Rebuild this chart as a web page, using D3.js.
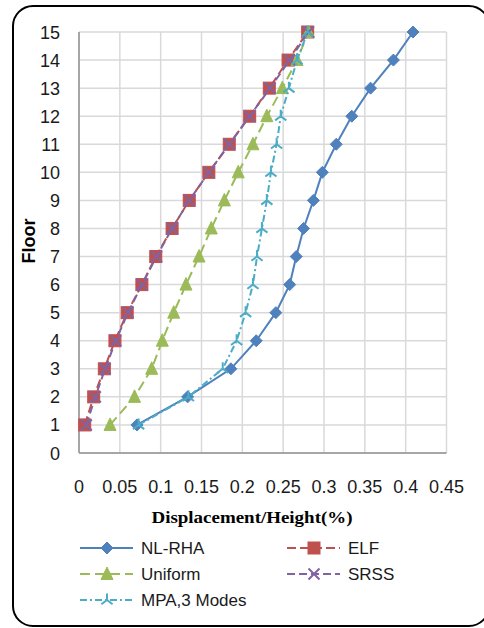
<!DOCTYPE html>
<html>
<head>
<meta charset="utf-8">
<script src="https://cdn.jsdelivr.net/npm/d3@7"></script>
<style>
html,body{margin:0;padding:0;background:#fff;}
svg{display:block;}
</style>
</head>
<body>
<svg id="chart" width="484" height="628"></svg>
<script>
const floors = [1,2,3,4,5,6,7,8,9,10,11,12,13,14,15];
const nlRha   = [0.071,0.133,0.186,0.217,0.241,0.258,0.266,0.275,0.287,0.298,0.315,0.334,0.357,0.385,0.409];
const elf     = [0.007,0.018,0.031,0.044,0.059,0.077,0.094,0.114,0.135,0.159,0.184,0.209,0.233,0.256,0.280];
const uniform = [0.038,0.068,0.089,0.102,0.116,0.131,0.147,0.162,0.178,0.195,0.213,0.230,0.249,0.267,0.281];
const srss    = [0.009,0.020,0.032,0.045,0.060,0.077,0.095,0.114,0.135,0.159,0.184,0.209,0.234,0.258,0.281];
const mpa     = [0.073,0.134,0.176,0.193,0.204,0.213,0.218,0.224,0.230,0.235,0.242,0.247,0.257,0.267,0.280];
const seriesNames = ["NL-RHA","ELF","Uniform","SRSS","MPA,3 Modes"];
const xTicks = [0,0.05,0.1,0.15,0.2,0.25,0.3,0.35,0.4,0.45];
const yTicks = [0,1,2,3,4,5,6,7,8,9,10,11,12,13,14,15];

const styles = {
  "NL-RHA":      {color:"#4F81BD", dash:null,      marker:"diamond"},
  "ELF":         {color:"#C0504D", dash:"9,4",     marker:"square"},
  "Uniform":     {color:"#9BBB59", dash:"10,5",    marker:"triangle"},
  "SRSS":        {color:"#8064A2", dash:"8,4",     marker:"x"},
  "MPA,3 Modes": {color:"#4BACC6", dash:"7,3,2,3", marker:"star"}
};
const dataBy = {"NL-RHA":nlRha,"ELF":elf,"Uniform":uniform,"SRSS":srss,"MPA,3 Modes":mpa};

const svg = d3.select("#chart");
const L = 79, R = 446.5, T = 32, B = 453;
const x = d3.scaleLinear().domain([0,0.45]).range([L,R]);
const y = d3.scaleLinear().domain([0,15]).range([B,T]);

// outer rounded border
svg.append("rect").attr("x",13).attr("y",6).attr("width",476).attr("height",620)
  .attr("rx",20).attr("ry",20).attr("fill","none").attr("stroke","#000").attr("stroke-width",2);

// gridlines
const g = svg.append("g");
g.selectAll("line.vg").data(xTicks.slice(1)).enter().append("line")
  .attr("x1",d=>x(d)).attr("x2",d=>x(d)).attr("y1",T).attr("y2",B)
  .attr("stroke","#d9d9d9").attr("stroke-width",1.5);
g.selectAll("line.hg").data(yTicks.slice(1)).enter().append("line")
  .attr("x1",L).attr("x2",R).attr("y1",d=>y(d)).attr("y2",d=>y(d))
  .attr("stroke","#d9d9d9").attr("stroke-width",1.5);
// axis lines
g.append("line").attr("x1",L).attr("x2",L).attr("y1",T).attr("y2",B).attr("stroke","#a6a6a6").attr("stroke-width",2);
g.append("line").attr("x1",L).attr("x2",R).attr("y1",B).attr("y2",B).attr("stroke","#a6a6a6").attr("stroke-width",2);

// tick labels
const font = "'Liberation Sans', Arial, sans-serif";
svg.append("g").selectAll("text").data(xTicks).enter().append("text")
  .attr("x",d=>x(d)).attr("y",493).attr("text-anchor","middle")
  .attr("font-family",font).attr("font-size",18).attr("fill","#1a1a1a")
  .text(d=>String(d));
svg.append("g").selectAll("text").data(yTicks).enter().append("text")
  .attr("x",60).attr("y",d=>y(d)+6.5).attr("text-anchor","end")
  .attr("font-family",font).attr("font-size",18).attr("fill","#1a1a1a")
  .text(d=>String(d));

// axis titles
svg.append("text").attr("x",252).attr("y",523).attr("text-anchor","middle")
  .attr("font-family","'Liberation Serif','Times New Roman',serif").attr("font-weight","bold")
  .attr("font-size",17).attr("textLength",201).attr("lengthAdjust","spacingAndGlyphs")
  .text("Displacement/Height(%)");
svg.append("text").attr("transform","translate(35,241) rotate(-90)").attr("text-anchor","middle")
  .attr("font-family",font).attr("font-weight","bold").attr("font-size",18)
  .text("Floor");

// marker drawing
function drawMarker(sel, type, color){
  if(type==="diamond"){
    sel.append("path").attr("d","M0,-6L6,0L0,6L-6,0Z").attr("fill",color).attr("stroke",color).attr("stroke-width",1);
  } else if(type==="square"){
    sel.append("rect").attr("x",-6).attr("y",-6).attr("width",12).attr("height",12).attr("fill",color).attr("stroke",color).attr("stroke-width",1);
  } else if(type==="triangle"){
    sel.append("path").attr("d","M0,-7L6,5.5L-6,5.5Z").attr("fill",color).attr("stroke",color).attr("stroke-width",1);
  } else if(type==="x"){
    sel.append("path").attr("d","M-5.5,-5.5L5.5,5.5M-5.5,5.5L5.5,-5.5").attr("fill","none").attr("stroke",color).attr("stroke-width",2);
  } else if(type==="star"){
    sel.append("path").attr("d","M0,0L0,-6.5M0,0L-5.6,4.2M0,0L5.6,4.2").attr("fill","none").attr("stroke",color).attr("stroke-width",2);
  }
}

const line = d3.line().x(d=>x(d[0])).y(d=>y(d[1]));
const order = ["NL-RHA","ELF","Uniform","SRSS","MPA,3 Modes"];
order.forEach(name=>{
  const st = styles[name];
  const pts = floors.map((f,i)=>[dataBy[name][i], f]);
  const sg = svg.append("g");
  sg.append("path").datum(pts).attr("d",line).attr("fill","none")
    .attr("stroke",st.color).attr("stroke-width",2)
    .attr("stroke-dasharray",st.dash);
  pts.forEach(p=>{
    const m = sg.append("g").attr("transform",`translate(${x(p[0])},${y(p[1])})`);
    drawMarker(m, st.marker, st.color);
  });
});

// legend
const legendPos = {
  "NL-RHA":[80,548], "ELF":[287,548],
  "Uniform":[80,574], "SRSS":[287,574],
  "MPA,3 Modes":[80,600]
};
seriesNames.forEach(name=>{
  const st = styles[name];
  const [lx,ly] = legendPos[name];
  const lg = svg.append("g");
  lg.append("line").attr("x1",lx).attr("x2",lx+53).attr("y1",ly).attr("y2",ly)
    .attr("stroke",st.color).attr("stroke-width",2).attr("stroke-dasharray",st.dash);
  const m = lg.append("g").attr("transform",`translate(${lx+27},${ly})`);
  drawMarker(m, st.marker, st.color);
  lg.append("text").attr("x",lx+61).attr("y",ly+6).attr("font-family",font)
    .attr("font-size",17).attr("fill","#1a1a1a").text(name);
});
</script>
</body>
</html>
